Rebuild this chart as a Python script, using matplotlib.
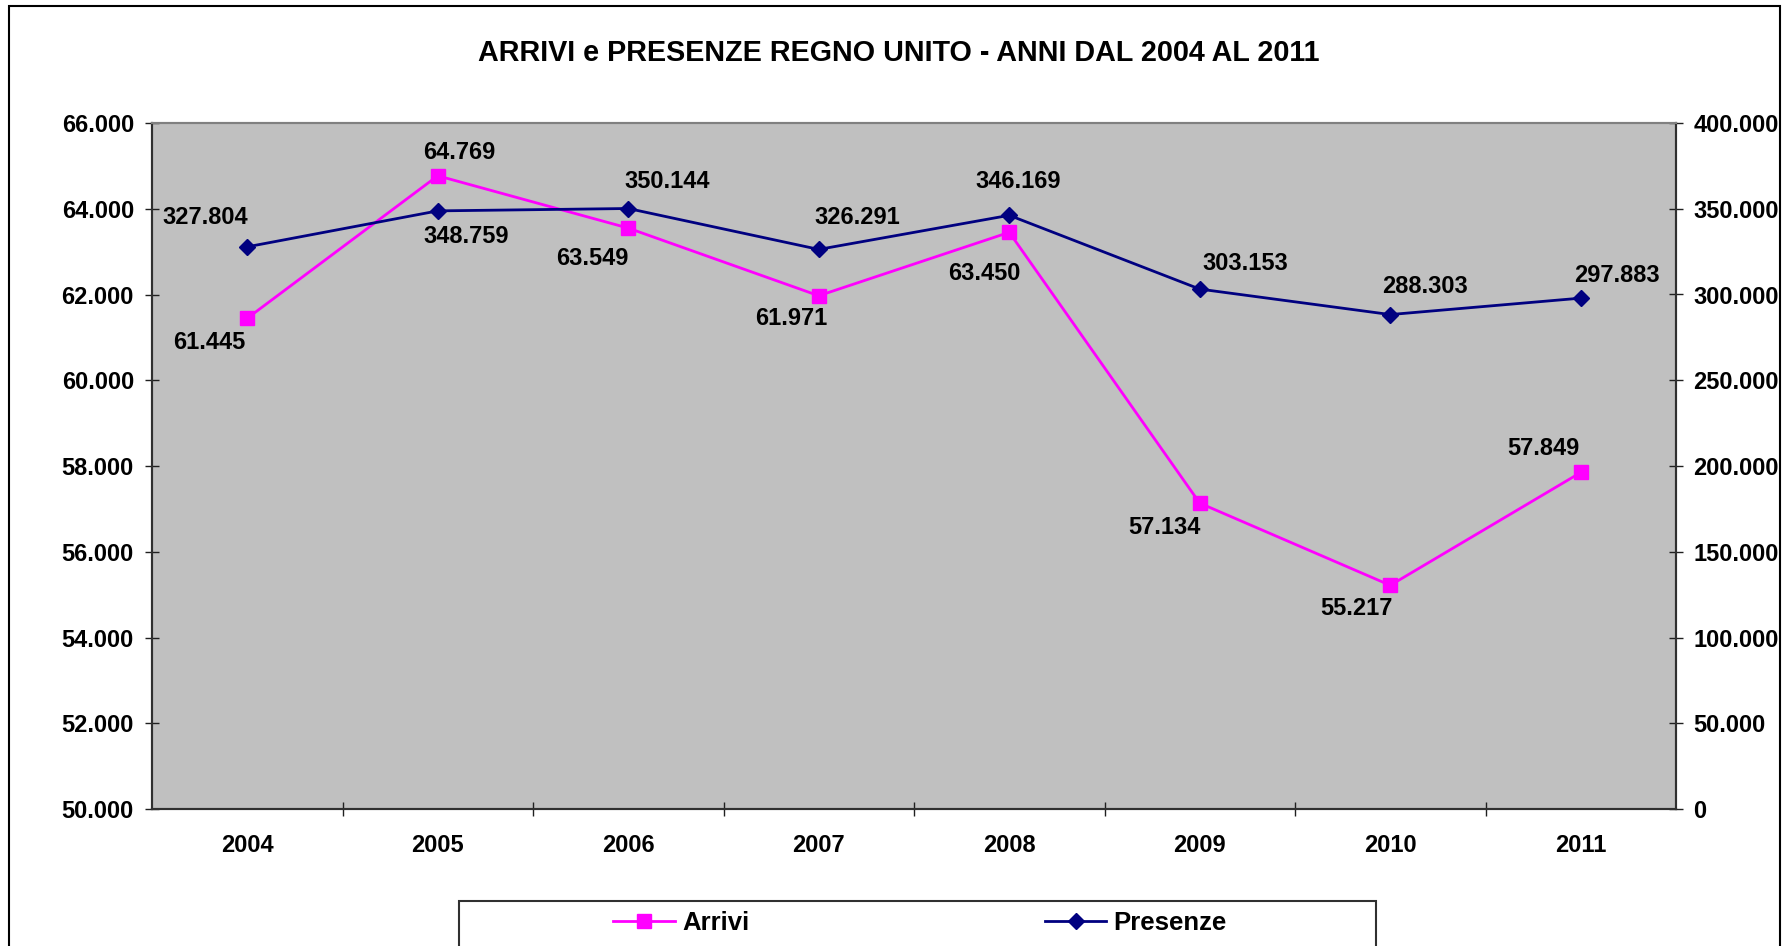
import matplotlib
matplotlib.use("Agg")
import matplotlib.pyplot as plt
from matplotlib.patches import Rectangle
from matplotlib.lines import Line2D
from matplotlib.ticker import FuncFormatter, FixedLocator
import numpy as np

# ---- data ----
years = ["2004", "2005", "2006", "2007", "2008", "2009", "2010", "2011"]
arrivi = [61445, 64769, 63549, 61971, 63450, 57134, 55217, 57849]
presenze = [327804, 348759, 350144, 326291, 346169, 303153, 288303, 297883]
left_ticks = [50000, 52000, 54000, 56000, 58000, 60000, 62000, 64000, 66000]
right_ticks = [0, 50000, 100000, 150000, 200000, 250000, 300000, 350000, 400000]
title = "ARRIVI e PRESENZE REGNO UNITO - ANNI DAL 2004 AL 2011"

# label offsets (pixels, x right / y up) for each data label
arrivi_off = [(-38, -24), (22, 23), (-36, -30), (-27, -23), (-25, -41), (-35, -24), (-34, -23), (-37, 24)]
presenze_off = [(-42, 29), (28, -26), (39, 27), (39, 32), (9, 34), (46, 26), (35, 28), (36, 23)]

PINK = "#FF00FF"
NAVY = "#000080"
FONT = "Liberation Sans"

plt.rcParams["font.family"] = [FONT, "DejaVu Sans"]
plt.rcParams["font.weight"] = "bold"

W, H = 1789, 946
fig = plt.figure(figsize=(W / 100, H / 100), dpi=100)
fig.patch.set_facecolor("white")

L, R, T, B = 152, 1676, 123, 809
ax = fig.add_axes([L / W, 1 - B / H, (R - L) / W, (B - T) / H])
ax.set_facecolor("#C0C0C0")
ax2 = ax.twinx()
ax2.set_facecolor("none")

x = np.arange(len(years))

fmt = lambda v, p=None: f"{v:,.0f}".replace(",", ".")

ax.plot(x, arrivi, color=PINK, lw=2.0, marker="s", ms=9.5, mfc=PINK, mec=PINK, zorder=3)
ax2.plot(x, presenze, color=NAVY, lw=2.0, marker="D", ms=8.3, mfc=NAVY, mec=NAVY, zorder=3)

LBL = 17
for xi, v, (dx, dy) in zip(x, arrivi, arrivi_off):
    ax.annotate(fmt(v), (xi, v), xytext=(dx, dy), textcoords="offset pixels",
                ha="center", va="center", fontsize=LBL, fontweight="bold", color="black", zorder=5)
for xi, v, (dx, dy) in zip(x, presenze, presenze_off):
    ax2.annotate(fmt(v), (xi, v), xytext=(dx, dy), textcoords="offset pixels",
                 ha="center", va="center", fontsize=LBL, fontweight="bold", color="black", zorder=5)

ax.set_xlim(-0.5, len(years) - 0.5)
ax.set_ylim(left_ticks[0], left_ticks[-1])
ax2.set_ylim(right_ticks[0], right_ticks[-1])

ax.yaxis.set_major_locator(FixedLocator(left_ticks))
ax.yaxis.set_major_formatter(FuncFormatter(fmt))
ax2.yaxis.set_major_locator(FixedLocator(right_ticks))
ax2.yaxis.set_major_formatter(FuncFormatter(fmt))

ax.set_xticks(x)
ax.set_xticklabels(years)
ax.set_xticks(np.arange(0.5, len(years) - 0.5, 1.0), minor=True)
ax.tick_params(axis="x", which="major", length=0, pad=18, labelsize=LBL)
ax.tick_params(axis="x", which="minor", direction="inout", length=10, width=1, color="#202020")
ax.tick_params(axis="y", direction="inout", length=10, width=1, pad=8, labelsize=LBL, color="#202020")
ax2.tick_params(axis="y", direction="inout", length=10, width=1, pad=7.5, labelsize=LBL, color="#202020")
for lab in ax.get_xticklabels() + ax.get_yticklabels() + ax2.get_yticklabels():
    lab.set_fontweight("bold")

for a in (ax, ax2):
    a.spines["top"].set_color("#808080")
    a.spines["top"].set_linewidth(1.5)
    for s in ("left", "right", "bottom"):
        a.spines[s].set_color("#303030")
        a.spines[s].set_linewidth(1.5)

# title
fig.text(0.5 * (480 + 1318) / W, 1 - 61 / H, title, ha="center", va="baseline",
         fontsize=20.7, fontweight="bold", color="black")

# outer chart frame
fig.add_artist(Rectangle((9 / W, -0.1), (1780 - 9) / W, 1 - 6 / H + 0.1,
                         transform=fig.transFigure, fill=False, ec="black", lw=1.5))
# legend frame
fig.add_artist(Rectangle((459 / W, -0.1), (1376 - 459) / W, 1 - 901 / H + 0.1,
                         transform=fig.transFigure, fill=False, ec="#303030", lw=1.5))

handles = [
    Line2D([], [], color=PINK, lw=2.0, marker="s", ms=9.5, mfc=PINK, mec=PINK),
    Line2D([], [], color=NAVY, lw=2.0, marker="D", ms=8.3, mfc=NAVY, mec=NAVY),
]
leg = fig.legend(handles, ["Arrivi", "Presenze"], loc="center",
                 bbox_to_anchor=(920 / W, 1 - 923 / H), ncol=2, frameon=False,
                 handlelength=2.4, handletextpad=0.28, columnspacing=11.5, numpoints=1,
                 prop={"family": FONT, "weight": "bold", "size": 18.5})

fig.savefig("out.png", dpi=100, facecolor="white")
